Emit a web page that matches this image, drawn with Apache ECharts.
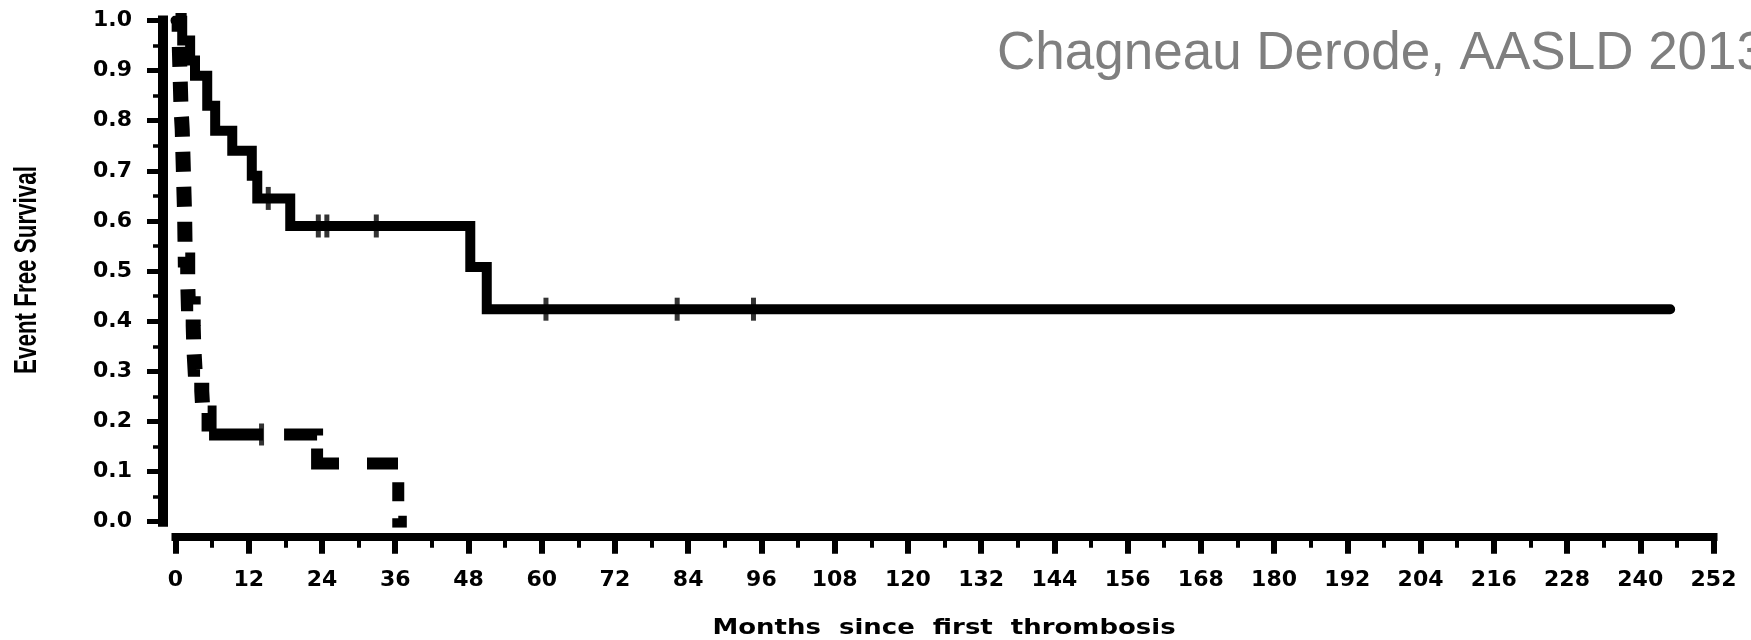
<!DOCTYPE html>
<html>
<head>
<meta charset="utf-8">
<script src="https://cdn.jsdelivr.net/npm/echarts@6/dist/echarts.min.js"></script>
<style>
html,body{margin:0;padding:0;background:#ffffff;}
#chart{width:1751px;height:640px;}
</style>
</head>
<body>
<div id="chart"></div>
<script>
// ---- Data ----
// Solid curve: Kaplan-Meier steps (month of drop, survival after drop)
const solidMonths   = [0, 1.1, 2.4, 3.2, 5.2, 6.5, 9.3, 12.5, 13.4, 18.8, 48.3, 51.0, 244.9];
const solidSurvival = [1.0, 0.96, 0.92, 0.89, 0.83, 0.78, 0.74, 0.69, 0.645, 0.59, 0.508, 0.424, 0.424];
// Solid curve censored observations
const solidCensorMonths   = [15.2, 23.4, 24.8, 32.9, 60.7, 82.2, 94.7];
const solidCensorSurvival = [0.645, 0.59, 0.59, 0.59, 0.424, 0.424, 0.424];

// Dashed curve: Kaplan-Meier steps
const dashedMonths   = [0, 0.6, 0.7, 0.8, 0.9, 1.1, 1.2, 1.3, 1.4, 1.5, 1.55, 1.6, 2.0, 2.1, 2.9, 3.0, 3.2, 4.3, 4.5, 5.5, 23.2, 36.5, 37.9];
const dashedSurvival = [1.0, 0.957, 0.913, 0.870, 0.826, 0.783, 0.739, 0.696, 0.652, 0.609, 0.565, 0.522, 0.478, 0.435, 0.391, 0.348, 0.304, 0.261, 0.217, 0.174, 0.116, 0.0, 0.0];
// Dashed curve censored observations
const dashedCensorMonths   = [14.1];
const dashedCensorSurvival = [0.174];

// Tick labels
const yTickLabels = ['0.0','0.1','0.2','0.3','0.4','0.5','0.6','0.7','0.8','0.9','1.0'];
const xTickLabels = ['0','12','24','36','48','60','72','84','96','108','120','132','144','156','168','180','192','204','216','228','240','252'];

// Texts
const titleText = 'Chagneau Derode, AASLD 2013';
const xAxisTitle = 'Months  since  first  thrombosis';
const yAxisTitle = 'Event Free Survival';

// ---- Build series data ----
const zip = (a, b) => a.map((v, i) => [v, b[i]]);
const solidData = zip(solidMonths, solidSurvival);
const dashedAll = zip(dashedMonths, dashedSurvival);
const splitIdx = dashedSurvival.indexOf(0.174);
const dashedEarly = dashedAll.slice(0, splitIdx + 1);
const dashedLate = dashedAll.slice(splitIdx);

const chart = echarts.init(document.getElementById('chart'), null, {renderer: 'canvas'});

const labelFont = {
  color: '#000',
  fontFamily: '"DejaVu Sans", sans-serif',
  fontWeight: 'bold',
  fontSize: 22
};

const option = {
  animation: false,
  backgroundColor: '#ffffff',
  grid: {
    left: 175.5,
    right: 37.5,
    top: 20.5,
    bottom: 118.3,
    containLabel: false,
    outerBoundsMode: 'none'
  },
  xAxis: {
    type: 'value',
    min: 0,
    max: 252,
    interval: 12,
    offset: 15,
    axisLine: {show: true, onZero: false, lineStyle: {color: '#000', width: 8, cap: 'square'}},
    axisTick: {show: true, length: 17, lineStyle: {color: '#000', width: 6}},
    minorTick: {show: true, splitNumber: 2, length: 11, lineStyle: {color: '#000', width: 4}},
    axisLabel: Object.assign({
      margin: 33,
      formatter: (v) => xTickLabels[Math.round(v / 12)]
    }, labelFont),
    splitLine: {show: false},
    minorSplitLine: {show: false}
  },
  yAxis: {
    type: 'value',
    min: 0,
    max: 1,
    interval: 0.1,
    offset: 12.5,
    axisLine: {show: true, onZero: false, lineStyle: {color: '#000', width: 10, cap: 'square'}},
    axisTick: {show: true, length: 16, lineStyle: {color: '#000', width: 5}},
    minorTick: {show: true, splitNumber: 2, length: 10, lineStyle: {color: '#000', width: 3.5}},
    axisLabel: Object.assign({
      margin: 31,
      formatter: (v) => yTickLabels[Math.round(v * 10)]
    }, labelFont),
    splitLine: {show: false},
    minorSplitLine: {show: false}
  },
  graphic: [
    {
      type: 'text',
      x: 997,
      y: 54,
      silent: true,
      style: {
        text: titleText,
        font: '53px "Liberation Sans", Arial, sans-serif',
        fill: '#7f7f7f',
        align: 'left', textAlign: 'left',
        verticalAlign: 'middle', textVerticalAlign: 'middle'
      }
    },
    {
      type: 'text',
      x: 944,
      y: 628,
      scaleX: 1.18,
      silent: true,
      style: {
        text: xAxisTitle,
        font: 'bold 22px "DejaVu Sans", sans-serif',
        fill: '#000',
        align: 'center', textAlign: 'center',
        verticalAlign: 'middle', textVerticalAlign: 'middle'
      }
    },
    {
      type: 'text',
      x: 27,
      y: 270,
      rotation: Math.PI / 2,
      scaleX: 0.7,
      silent: true,
      style: {
        text: yAxisTitle,
        font: 'bold 32px "Liberation Sans", Arial, sans-serif',
        fill: '#000',
        align: 'center', textAlign: 'center',
        verticalAlign: 'middle', textVerticalAlign: 'middle'
      }
    }
  ],
  series: [
    {
      name: 'Solid',
      type: 'line',
      step: 'end',
      data: solidData,
      symbol: 'none',
      lineStyle: {color: '#000', width: 10, cap: 'round', join: 'miter'},
      z: 3
    },
    {
      name: 'Dashed early',
      type: 'line',
      step: 'end',
      data: dashedEarly,
      symbol: 'none',
      lineStyle: {color: '#000', width: 15, type: [20, 15], dashOffset: 5, cap: 'butt', join: 'miter'},
      z: 4
    },
    {
      name: 'Dashed late',
      type: 'line',
      step: 'end',
      data: dashedLate,
      symbol: 'none',
      lineStyle: {color: '#000', width: 12, type: [54, 21, 34, 13, 37, 28, 31, 19, 19, 17, 12, 200], cap: 'butt', join: 'miter'},
      z: 4
    },
    {
      name: 'Solid censored',
      type: 'scatter',
      data: zip(solidCensorMonths, solidCensorSurvival),
      symbol: 'rect',
      symbolSize: [5, 23],
      itemStyle: {color: '#000'},
      z: 5
    },
    {
      name: 'Dashed censored',
      type: 'scatter',
      data: zip(dashedCensorMonths, dashedCensorSurvival),
      symbol: 'rect',
      symbolSize: [5, 22],
      itemStyle: {color: '#000'},
      z: 5
    }
  ]
};

chart.setOption(option);
</script>
</body>
</html>
